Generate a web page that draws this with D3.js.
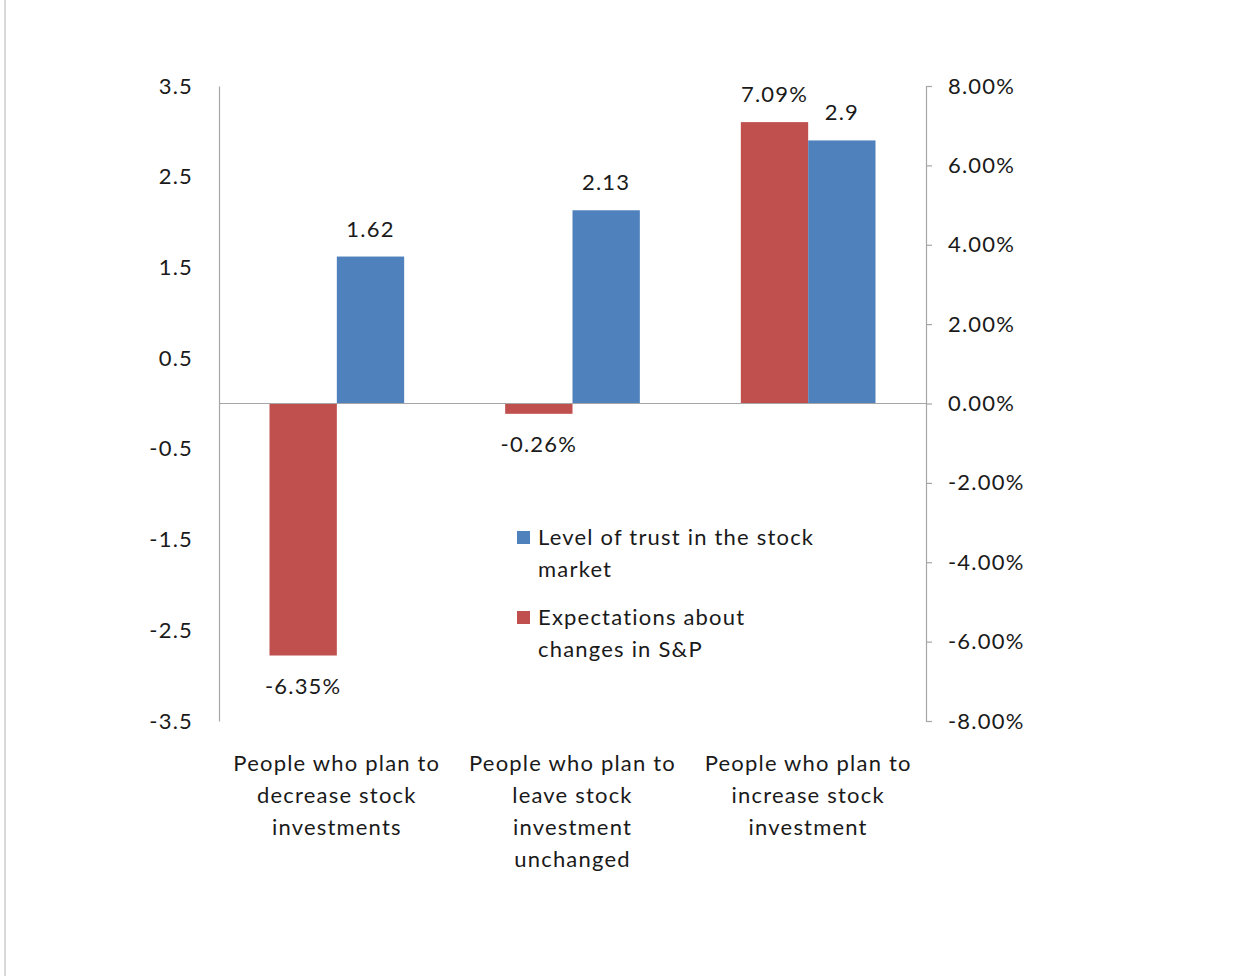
<!DOCTYPE html>
<html>
<head>
<meta charset="utf-8">
<script src="https://cdn.jsdelivr.net/npm/d3@7"></script>
<style>
  html, body { margin: 0; padding: 0; background: #fff; }
  svg { display: block; }
  text { font-family: Lato, "Open Sans", sans-serif; fill: #1a1a1a; letter-spacing: 1.2px; }
</style>
</head>
<body>
<svg id="chart" width="1254" height="976"></svg>
<script>
// Groups of respondents along the horizontal axis (each label line listed)
const categories = [
  ["People who plan to", "decrease stock", "investments"],
  ["People who plan to", "leave stock", "investment", "unchanged"],
  ["People who plan to", "increase stock", "investment"]
];
// Left-axis series: level of trust in the stock market
const trust = [1.62, 2.13, 2.9];
// Right-axis series: expected change in the S&P (percent)
const expectations = [-6.35, -0.26, 7.09];
const leftTicks = [3.5, 2.5, 1.5, 0.5, -0.5, -1.5, -2.5, -3.5];
const rightTicks = [8, 6, 4, 2, 0, -2, -4, -6, -8];
const seriesNames = [
  ["Level of trust in the stock", "market"],
  ["Expectations about", "changes in S&P"]
];

const BLUE = "#4F81BD", RED = "#C0504D", AXIS = "#a6a6a6";
const FS = 22;
const svg = d3.select("#chart");

// Outer frame line on the left edge
svg.append("line").attr("x1", 5).attr("x2", 5).attr("y1", 0).attr("y2", 976)
  .attr("stroke", "#d9d9d9").attr("stroke-width", 2);

const plot = { left: 219, right: 926, top: 86, bottom: 721 };

const yL = d3.scaleLinear().domain([-3.5, 3.5]).range([plot.bottom, plot.top]);
const yR = d3.scaleLinear().domain([-8, 8]).range([plot.bottom, plot.top]);

// Each category slot holds a 150% gap plus two bars: bar = slot / 3.5
const slot = (plot.right - plot.left) / categories.length;
const barW = slot / 3.5;
const center = i => plot.left + slot * (i + 0.5);

// Bars: expectations (red, right axis) then trust (blue, left axis)
svg.append("g").selectAll("rect").data(expectations).join("rect")
  .attr("x", (d, i) => center(i) - barW)
  .attr("width", barW)
  .attr("y", d => Math.min(yR(d), yR(0)))
  .attr("height", d => Math.abs(yR(d) - yR(0)))
  .attr("fill", RED);

svg.append("g").selectAll("rect").data(trust).join("rect")
  .attr("x", (d, i) => center(i))
  .attr("width", barW)
  .attr("y", d => Math.min(yL(d), yL(0)))
  .attr("height", d => Math.abs(yL(d) - yL(0)))
  .attr("fill", BLUE);

// Zero baseline across the plot
svg.append("line")
  .attr("x1", plot.left).attr("x2", plot.right)
  .attr("y1", yL(0)).attr("y2", yL(0))
  .attr("stroke", AXIS).attr("stroke-width", 1.2);

// Left axis: line only, labels without tick marks
const leftAxis = d3.axisLeft(yL).tickValues(leftTicks).tickSize(0).tickPadding(26)
  .tickFormat(d => d.toFixed(1));
const gL = svg.append("g").attr("transform", `translate(${plot.left},0)`).call(leftAxis);
gL.select(".domain").attr("stroke", AXIS).attr("stroke-width", 1.2);
gL.selectAll("text").attr("font-size", FS).style("font-family", "Lato, sans-serif").attr("fill", "#1a1a1a");

// Right axis: outward ticks, percent labels
const rightAxis = d3.axisRight(yR).tickValues(rightTicks).tickSizeInner(6).tickSizeOuter(0)
  .tickPadding(16).tickFormat(d => d.toFixed(2) + "%");
const gR = svg.append("g").attr("transform", `translate(${plot.right},0)`).call(rightAxis);
gR.select(".domain").attr("stroke", AXIS).attr("stroke-width", 1.2);
gR.selectAll(".tick line").attr("stroke", AXIS).attr("stroke-width", 1.2);
gR.selectAll("text").attr("font-size", FS).style("font-family", "Lato, sans-serif").attr("fill", "#1a1a1a");

// Data labels
const labels = svg.append("g").attr("font-size", FS).attr("text-anchor", "middle");
labels.selectAll(".lt").data(trust).join("text")
  .attr("x", (d, i) => center(i) + barW / 2)
  .attr("y", d => yL(d) - 20)
  .text(d => String(d));
labels.selectAll(".le").data(expectations).join("text")
  .attr("x", (d, i) => center(i) - barW / 2)
  .attr("y", d => d >= 0 ? yR(d) - 20 : yR(d) + 38)
  .text(d => d.toFixed(2) + "%");

// Category labels, multi-line
const cat = svg.append("g").attr("font-size", FS).attr("text-anchor", "middle");
categories.forEach((lines, i) => {
  const t = cat.append("text").attr("x", center(i)).attr("y", 771);
  lines.forEach((ln, k) => t.append("tspan").attr("x", center(i)).attr("dy", k ? 32 : 0).text(ln));
});

// Legend
const legend = svg.append("g").attr("font-size", FS);
[BLUE, RED].forEach((c, i) => {
  const y0 = 531 + i * 80;
  legend.append("rect").attr("x", 517).attr("y", y0).attr("width", 13).attr("height", 13).attr("fill", c);
  const t = legend.append("text").attr("x", 538).attr("y", y0 + 14);
  seriesNames[i].forEach((ln, k) => t.append("tspan").attr("x", 538).attr("dy", k ? 32 : 0).text(ln));
});
</script>
</body>
</html>
